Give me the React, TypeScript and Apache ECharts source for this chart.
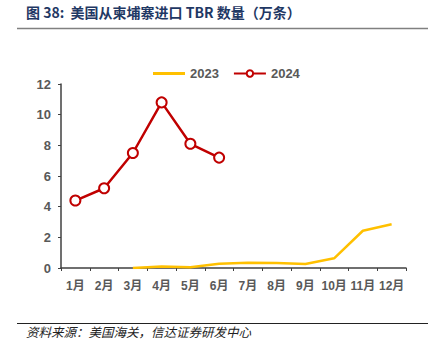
import React, { useEffect, useRef } from "react";
import * as echarts from "echarts";

const months = ["1月", "2月", "3月", "4月", "5月", "6月", "7月", "8月", "9月", "10月", "11月", "12月"];
const s2023: (number | null)[] = [null, null, 0, 0.1, 0.05, 0.28, 0.34, 0.33, 0.26, 0.63, 2.43, 2.85];
const s2024: (number | null)[] = [4.4, 5.2, 7.5, 10.8, 8.1, 7.2, null, null, null, null, null, null];
const yTicks = [0, 2, 4, 6, 8, 10, 12];

export default function App() {
  const ref = useRef<HTMLDivElement>(null);
  useEffect(() => {
    if (!ref.current) return;
    const chart = echarts.init(ref.current, undefined, { renderer: "svg" });
    const labelFont = { color: "#595959", fontWeight: "bold" as const, fontSize: 12, fontFamily: "Liberation Sans, Arial, Noto Sans CJK SC, sans-serif" };
    chart.setOption({
      animation: false,
      backgroundColor: "#ffffff",
      graphic: [
        {
          type: "text",
          left: 26,
          top: 5,
          style: {
            text: "图 38:  美国从柬埔寨进口 TBR 数量（万条）",
            fill: "#1F3864",
            font: "bold 14px 'Noto Sans CJK SC', sans-serif",
          },
        },
        { type: "line", shape: { x1: 17, y1: 28.5, x2: 428, y2: 28.5 }, style: { stroke: "#808080", lineWidth: 1.5 } },
        { type: "line", shape: { x1: 17, y1: 323.5, x2: 428, y2: 323.5 }, style: { stroke: "#222222", lineWidth: 1 } },
        {
          type: "text",
          left: 26,
          top: 325,
          style: {
            text: "资料来源：美国海关，信达证券研发中心",
            fill: "#222222",
            font: "italic 12.5px 'Noto Sans CJK SC', serif",
          },
        },
      ],
      legend: {
        top: 62,
        left: 148,
        itemWidth: 32,
        itemHeight: 8,
        itemGap: 14,
        textStyle: { ...labelFont, fontSize: 13 },
        data: [
          { name: "2023", icon: "path://M0,0 L32,0 L32,3 L0,3 Z" },
          { name: "2024" },
        ],
      },
      grid: { left: 61, right: 30, top: 84, bottom: 90, containLabel: false },
      xAxis: {
        type: "category",
        data: months,
        boundaryGap: true,
        axisLine: { lineStyle: { color: "#404040", width: 1.5 } },
        axisTick: { show: true, length: 3, inside: false, lineStyle: { color: "#404040" } },
        axisLabel: { ...labelFont, margin: 12, interval: 0 },
      },
      yAxis: {
        type: "value",
        min: 0,
        max: 12,
        interval: 2,
        axisLine: { show: true, lineStyle: { color: "#404040", width: 1.5 } },
        axisTick: { show: true, length: 3, lineStyle: { color: "#404040" } },
        splitLine: { show: false },
        axisLabel: { ...labelFont, fontSize: 13, margin: 10, customValues: yTicks },
      },
      series: [
        {
          name: "2023",
          type: "line",
          data: s2023,
          showSymbol: false,
          symbol: "none",
          lineStyle: { color: "#FFC000", width: 2.5 },
          itemStyle: { color: "#FFC000" },
        },
        {
          name: "2024",
          type: "line",
          data: s2024,
          symbol: "emptyCircle",
          symbolSize: 10,
          lineStyle: { color: "#C00000", width: 2.5 },
          itemStyle: { color: "#C00000", borderColor: "#C00000", borderWidth: 1.2 },
        },
      ],
    });
    return () => chart.dispose();
  }, []);
  return <div ref={ref} style={{ position: "fixed", left: 0, top: 0, width: 436, height: 358 }} />;
}
